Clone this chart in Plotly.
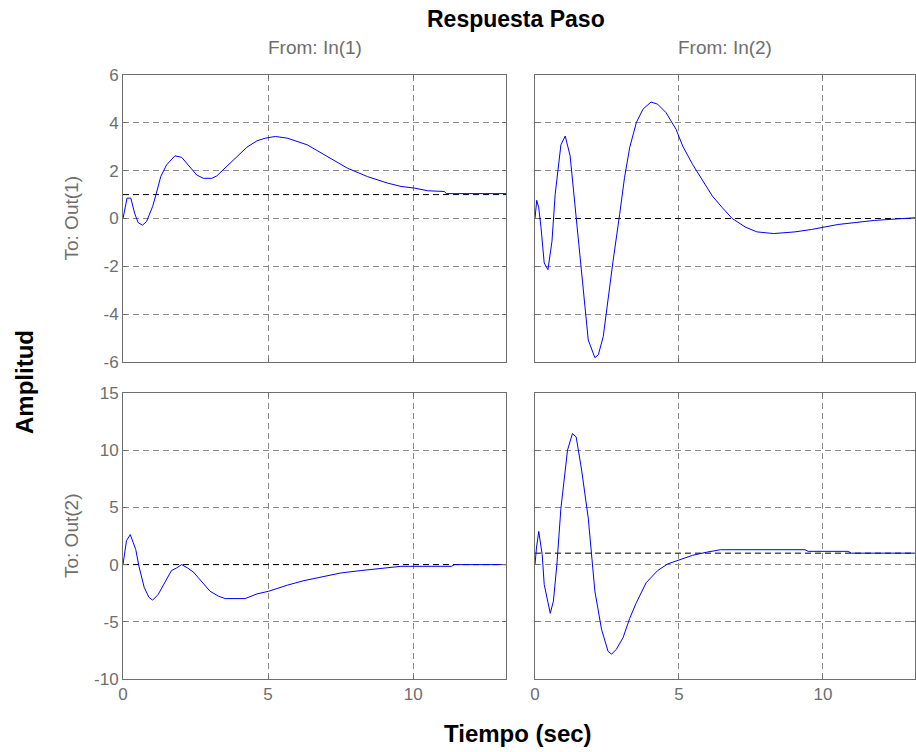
import plotly.graph_objects as go

# ---- data ----
t11 = [0, 0.14, 0.27, 0.40, 0.52, 0.67, 0.81, 1.02, 1.15, 1.30, 1.50, 1.79, 2.02, 2.29, 2.54, 2.77,
       3.06, 3.23, 3.58, 3.93, 4.27, 4.62, 4.91, 5.25, 5.66, 6.35, 7.04, 7.74, 8.43, 9.12, 9.58,
       10.05, 10.50, 11.08, 11.14, 13.2]
y11 = [0.0, 0.85, 0.85, 0.22, -0.17, -0.28, -0.13, 0.50, 1.06, 1.75, 2.24, 2.62, 2.56, 2.17, 1.82, 1.68,
       1.68, 1.78, 2.17, 2.59, 2.98, 3.25, 3.36, 3.43, 3.36, 3.08, 2.59, 2.10, 1.75, 1.48, 1.34,
       1.27, 1.16, 1.13, 1.04, 1.04]

t12 = [0, 0.06, 0.13, 0.21, 0.32, 0.45, 0.59, 0.70, 0.90, 1.05, 1.22, 1.39, 1.62, 1.85, 2.08, 2.20,
       2.37, 2.54, 2.71, 2.94, 3.11, 3.29, 3.52, 3.75, 4.03, 4.26, 4.55, 4.90, 5.13, 5.47, 5.82,
       6.16, 6.51, 6.85, 7.31, 7.71, 8.29, 9.03, 9.60, 10.53, 11.79, 13.2]
y12 = [0.0, 0.76, 0.45, -0.39, -1.86, -2.14, -0.95, 1.00, 3.08, 3.45, 2.62, 0.59, -2.07, -5.08, -5.82, -5.70,
       -4.94, -3.33, -1.79, 0.17, 1.71, 2.97, 4.01, 4.57, 4.87, 4.78, 4.43, 3.73, 3.03, 2.27, 1.57,
       0.94, 0.45, 0.0, -0.36, -0.56, -0.63, -0.56, -0.46, -0.25, -0.08, 0.03]

t21 = [0, 0.12, 0.25, 0.44, 0.55, 0.73, 0.89, 1.02, 1.21, 1.48, 1.67, 1.85, 2.02, 2.22, 2.42, 2.60,
       3.00, 3.29, 3.52, 4.21, 4.62, 5.02, 5.66, 6.24, 6.81, 7.51, 8.20, 8.89, 9.58, 11.32, 11.43, 13.2]
y21 = [0.0, 2.09, 2.62, 1.31, -0.15, -1.98, -2.85, -3.11, -2.62, -1.31, -0.52, -0.29, 0.0, -0.29, -0.64, -1.16,
       -2.33, -2.76, -2.97, -2.97, -2.56, -2.33, -1.80, -1.40, -1.10, -0.73, -0.52, -0.35, -0.15, -0.15, 0.0, 0.0]

t22 = [0, 0.05, 0.13, 0.25, 0.32, 0.53, 0.64, 0.76, 0.90, 1.13, 1.30, 1.43, 1.62, 1.85, 2.08, 2.31,
       2.54, 2.66, 2.83, 3.06, 3.29, 3.52, 3.86, 4.26, 4.61, 5.01, 5.47, 5.99, 6.45, 9.38, 9.49,
       10.87, 10.99, 13.2]
y22 = [0.0, 1.45, 2.90, 0.87, -1.74, -4.26, -3.19, 0.0, 4.93, 10.0, 11.45, 11.16, 8.26, 4.06, -2.32, -5.65,
       -7.59, -7.83, -7.39, -6.38, -4.70, -3.33, -1.59, -0.52, 0.06, 0.43, 0.81, 1.10, 1.30, 1.30, 1.16,
       1.16, 1.0, 1.0]

steady = [1, 0, 0, 1]          # final values (black dashed lines)
t_max = 13.2
y_range_top = [-6, 6]
y_range_bot = [-10, 15]
y_ticks_top = [-6, -4, -2, 0, 2, 4, 6]
y_ticks_bot = [-10, -5, 0, 5, 10, 15]
x_ticks = [0, 5, 10]
col_titles = ["From: In(1)", "From: In(2)"]
row_titles = ["To: Out(1)", "To: Out(2)"]

W, H = 916, 752
FONT = "Liberation Sans, Arial, sans-serif"
GRAY = "#6e6e6e"

def px(x):
    return x / W

def py(y):
    return 1 - y / H

xdom = [[px(123), px(506)], [px(535), px(915)]]
ydom = [[py(362), py(75)], [py(679), py(393)]]

series = [(t11, y11), (t12, y12), (t21, y21), (t22, y22)]

fig = go.Figure()
for i, (t, y) in enumerate(series):
    ax = "" if i == 0 else str(i + 1)
    fig.add_trace(go.Scatter(x=[0, t_max], y=[steady[i]] * 2, mode="lines",
                             line=dict(color="black", width=1, dash="6px,4px"),
                             xaxis="x" + ax, yaxis="y" + ax, showlegend=False, hoverinfo="skip"))
    fig.add_trace(go.Scatter(x=t, y=y, mode="lines", line=dict(color="#0000ff", width=1),
                             xaxis="x" + ax, yaxis="y" + ax, showlegend=False))

layout = dict(width=W, height=H, margin=dict(l=0, r=0, t=0, b=0, pad=0, autoexpand=False),
              paper_bgcolor="white", plot_bgcolor="white",
              font=dict(family=FONT, color=GRAY, size=16))

for i in range(4):
    r, c = divmod(i, 2)
    ax = "" if i == 0 else str(i + 1)
    yt = y_ticks_top if r == 0 else y_ticks_bot
    common = dict(showline=True, linecolor=GRAY, linewidth=1, mirror="allticks",
                  ticks="inside", ticklen=4, tickcolor=GRAY, automargin=False,
                  showgrid=True, gridcolor="#8a8a8a", gridwidth=1, griddash="6px,4px",
                  zeroline=False, tickfont=dict(family=FONT, size=17, color=GRAY))
    layout["xaxis" + ax] = dict(common, domain=xdom[c], range=[0, t_max], tickvals=x_ticks,
                                ticktext=[str(v) for v in x_ticks],
                                anchor="y" + ax, showticklabels=(r == 1))
    layout["yaxis" + ax] = dict(common, domain=ydom[r],
                                range=y_range_top if r == 0 else y_range_bot,
                                tickvals=yt, ticktext=[str(v) for v in yt],
                                anchor="x" + ax, showticklabels=(c == 0))

def note(text, x, y, size, color, angle=0):
    return dict(text=text, x=x, y=y, xref="paper", yref="paper", xanchor="center", yanchor="middle",
                textangle=angle, showarrow=False, font=dict(family=FONT, size=size, color=color))

ann = [note("<b>Respuesta Paso</b>", px(516), py(19), 23, "black")]
for c, txt in enumerate(col_titles):
    ann.append(note(txt, (xdom[c][0] + xdom[c][1]) / 2, py(47), 19, GRAY))
for r, txt in enumerate(row_titles):
    ann.append(note(txt, px(71), (ydom[r][0] + ydom[r][1]) / 2, 19, GRAY, -90))
ann.append(note("<b>Amplitud</b>", px(24), py(382), 24, "black", -90))
ann.append(note("<b>Tiempo (sec)</b>", px(518), py(733), 24, "black"))
layout["annotations"] = ann

fig.update_layout(**layout)
fig.write_html("out.html")
